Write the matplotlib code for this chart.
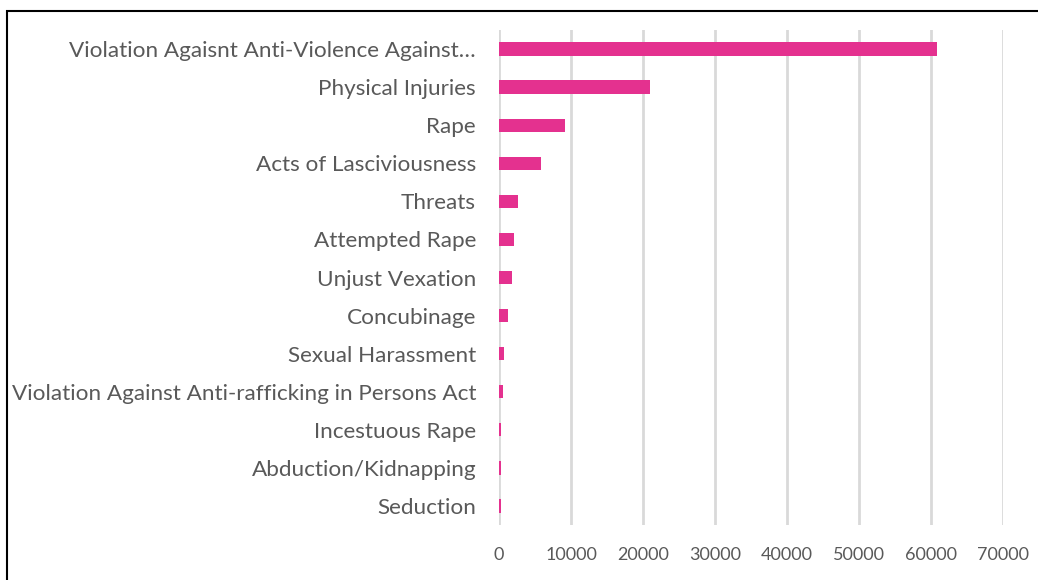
import matplotlib
matplotlib.use("Agg")
import matplotlib.pyplot as plt
from matplotlib.patches import Rectangle

categories = [
    "Violation Agaisnt Anti-Violence Against…",
    "Physical Injuries",
    "Rape",
    "Acts of Lasciviousness",
    "Threats",
    "Attempted Rape",
    "Unjust Vexation",
    "Concubinage",
    "Sexual Harassment",
    "Violation Against Anti-rafficking in Persons Act",
    "Incestuous Rape",
    "Abduction/Kidnapping",
    "Seduction",
]
cases = [60800, 21000, 9200, 5900, 2600, 2100, 1800, 1250, 650, 600, 300, 280, 270]
xticks = [0, 10000, 20000, 30000, 40000, 50000, 60000, 70000]

W, H = 1038, 580
fig = plt.figure(figsize=(W / 100, H / 100), dpi=100)
ax = fig.add_axes([499 / W, 1 - 525 / H, (1003 - 499) / W, (525 - 30) / H])

bar_color = "#E4318F"
text_color = "#595959"
font = "Lato"

y = list(range(len(categories)))
ax.barh(y, cases, height=0.35, color=bar_color, zorder=3)
ax.set_ylim(len(categories) - 0.5, -0.5)
ax.set_xlim(0, 70000)
ax.set_xticks(xticks)
ax.set_xticklabels([str(t) for t in xticks], fontsize=13, color=text_color, family=font)
ax.set_yticks(y)
ax.set_yticklabels(categories, fontsize=16.2, color=text_color, family=font)
ax.tick_params(axis="both", length=0)
ax.tick_params(axis="y", pad=16.5)
ax.tick_params(axis="x", pad=16)
ax.grid(axis="x", color="#D9D9D9", linewidth=2, zorder=0)
for s in ax.spines.values():
    s.set_visible(False)

# frame running off the right and bottom edges
fig.patches.append(Rectangle((7 / W, -0.1), 1.2, 1 - 11 / H + 0.1,
                             transform=fig.transFigure, fill=False,
                             edgecolor="black", linewidth=1.5))

fig.savefig("out.png", dpi=100, facecolor="white")
